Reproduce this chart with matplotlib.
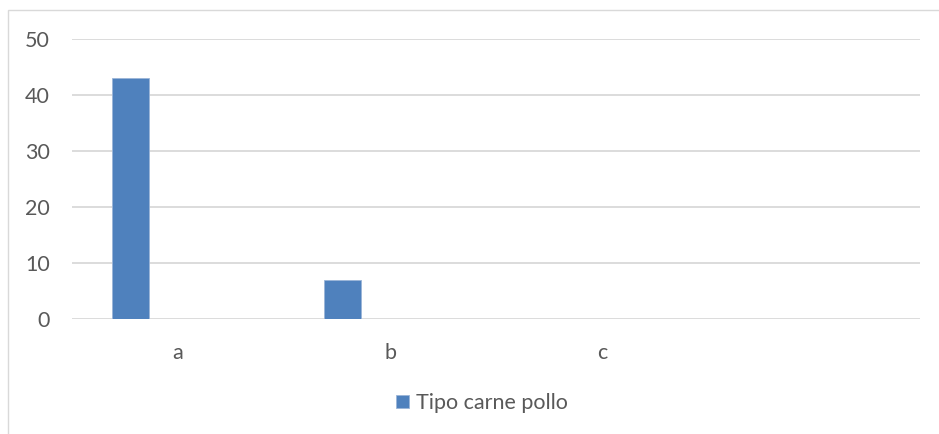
import matplotlib.pyplot as plt
import numpy as np
from matplotlib.patches import Rectangle

# chart data
categories = [ 'a', 'b', 'c', '' ]
pollo = [ 43, 7, np.nan, np.nan ]
series_name = 'Tipo carne pollo'
y_ticks = [ 0, 10, 20, 30, 40, 50 ]

bar_color = '#4f81bd'
text_color = '#595959'
grid_color = '#d9d9d9'

plt.rcParams['font.family'] = [ 'Lato', 'DejaVu Sans' ]

W, H = 939, 434
fig = plt.figure( figsize = ( W / 100, H / 100 ), dpi = 100 )
ax = fig.add_axes( [ 72 / W, 1 - 319 / H, ( 920 - 72 ) / W, 280 / H ] )

# chart border (left and top edges visible)
fig.patches.append( Rectangle( ( 8 / W, -0.1 ), 1.2, 1 - 10 / H + 0.1, transform = fig.transFigure,
                               fill = False, edgecolor = '#d9d9d9', linewidth = 1 ) )

x = np.arange( len( categories ) )
ax.bar( x - 0.222, pollo, width = 0.175, color = bar_color, edgecolor = '#9bb5d8',
        linewidth = 0.6, label = series_name, zorder = 3 )

ax.set_xlim( -0.5, len( categories ) - 0.5 )
ax.set_ylim( 0, 50 )
ax.set_yticks( y_ticks )
ax.set_xticks( x )
ax.set_xticklabels( categories )
ax.yaxis.grid( True, color = grid_color, linewidth = 1.3 )
ax.set_axisbelow( True )
for s in ax.spines.values():
    s.set_visible( False )
ax.tick_params( axis = 'both', length = 0, labelsize = 15.5, labelcolor = text_color )
ax.tick_params( axis = 'y', pad = 16 )
ax.tick_params( axis = 'x', pad = 17 )

leg = fig.legend( loc = 'center', bbox_to_anchor = ( 482 / W, 1 - 403 / H ), frameon = False,
                  fontsize = 15.5, handlelength = 0.6, handleheight = 0.6, handletextpad = 0.35 )
for t in leg.get_texts():
    t.set_color( text_color )

fig.savefig( 'out.png', dpi = 100 )
